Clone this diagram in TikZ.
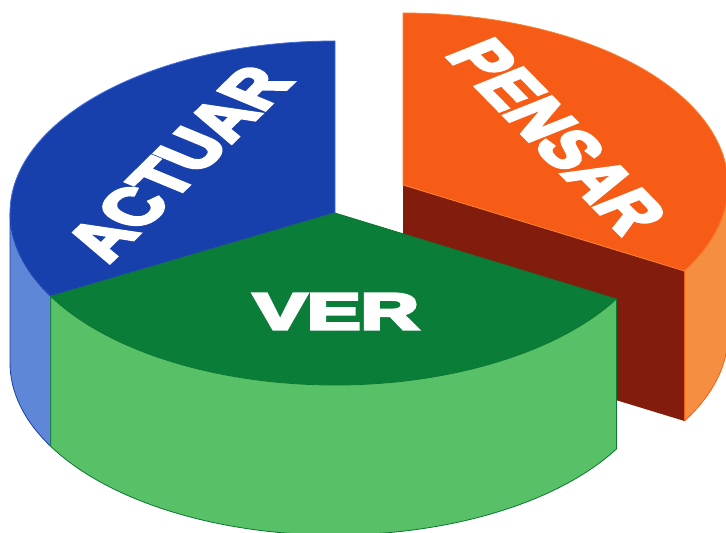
\documentclass[tikz,border=0pt]{standalone}
\usepackage{fontspec}
\usetikzlibrary{calc}
\newfontfamily\heavy[FakeBold=5.5]{Liberation Sans Bold}
\definecolor{bluetop}{RGB}{24,64,172}
\definecolor{blueside}{RGB}{95,135,215}
\definecolor{blueedge}{RGB}{70,110,220}
\definecolor{greentop}{RGB}{10,125,56}
\definecolor{greenside}{RGB}{88,192,102}
\definecolor{greenedge}{RGB}{10,120,50}
\definecolor{orangetop}{RGB}{246,92,22}
\definecolor{orangeside}{RGB}{246,142,66}
\definecolor{orangeedge}{RGB}{250,130,50}
\definecolor{darkred}{RGB}{130,28,12}
\tikzset{
  face/.style={line width=0.8pt, line join=round},
  lbl/.style={text=white, inner sep=0pt, font=\heavy\fontsize{97}{97}\selectfont, xscale=0.83, transform shape},
}
\begin{document}
\begin{tikzpicture}[x=1pt,y=1pt]
\useasboundingbox (0,0) rectangle (726,533);
\clip (0,0) rectangle (726,533);
\def\rx{325}\def\ry{172}\def\hh{150}
\coordinate (cm) at (335,320);
\coordinate (co) at (403,348);
% ---------- orange (PENSAR) ----------
\fill[darkred] (co) -- ($(co)+(330:\rx pt and \ry pt)$) -- ++(0,-\hh) -- ($(co)+(0,-\hh)$) -- cycle;
\path[face, fill=orangeside, draw=orangetop] ($(co)+(330:\rx pt and \ry pt)$) arc[start angle=330, end angle=360, x radius=\rx, y radius=\ry] -- ++(0,-\hh) arc[start angle=360, end angle=330, x radius=\rx, y radius=\ry] -- cycle;
\path[face, fill=orangetop, draw=orangeedge] (co) -- ($(co)+(330:\rx pt and \ry pt)$) arc[start angle=330, end angle=450, x radius=\rx, y radius=\ry] -- cycle;
% ---------- blue (ACTUAR) ----------
\path[face, fill=bluetop, draw=blueedge] (cm) -- ($(cm)+(90:\rx pt and \ry pt)$) arc[start angle=90, end angle=209, x radius=\rx, y radius=\ry] -- cycle;
\path[face, fill=blueside, draw=bluetop] ($(cm)+(180:\rx pt and \ry pt)$) arc[start angle=180, end angle=209, x radius=\rx, y radius=\ry] -- ++(0,-\hh) arc[start angle=209, end angle=180, x radius=\rx, y radius=\ry] -- cycle;
% ---------- green (VER) ----------
\path[face, fill=greentop, draw=greenedge] (cm) -- ($(cm)+(209:\rx pt and \ry pt)$) arc[start angle=209, end angle=330, x radius=\rx, y radius=\ry] -- cycle;
\path[face, fill=greenside, draw=greenedge] ($(cm)+(209:\rx pt and \ry pt)$) arc[start angle=209, end angle=330, x radius=\rx, y radius=\ry] -- ++(0,-\hh) arc[start angle=330, end angle=209, x radius=\rx, y radius=\ry] -- cycle;
% ---------- labels lying on the top plane ----------
\begin{scope}[shift={(178,370)}, yscale=0.53]
  \node[lbl, rotate=57] (actuar) {ACTUAR};
\end{scope}
\begin{scope}[shift={(557,397)}, yscale=0.53]
  \node[lbl, rotate=-58] (pensar) {PENSAR};
\end{scope}
\begin{scope}[shift={(336,221.5)}, yscale=0.53]
  \node[lbl] (ver) {VER};
\end{scope}
\end{tikzpicture}
\end{document}
